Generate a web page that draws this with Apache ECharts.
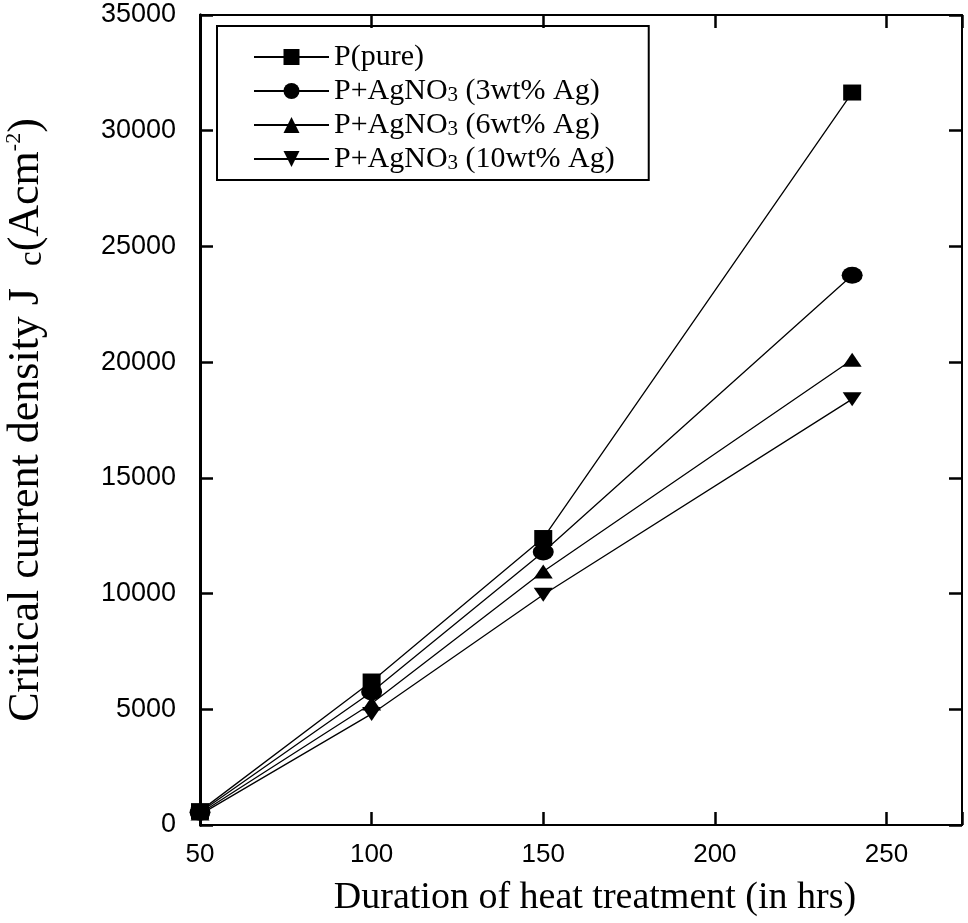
<!DOCTYPE html>
<html>
<head>
<meta charset="utf-8">
<title>Critical current density vs heat treatment</title>
<script src="https://cdn.jsdelivr.net/npm/echarts@6/dist/echarts.min.js"></script>
<style>
  html, body { margin: 0; padding: 0; background: #fff; }
  #chart { width: 968px; height: 923px; }
</style>
</head>
<body>
<div id="chart"></div>
<script>
// Heat-treatment durations (hours)
const hours = [50, 100, 150, 240];

// Critical current density Jc (A/cm^2) for each sample
const pure = [600, 6200, 12400, 31650];
const ag3 = [550, 5750, 11800, 23750];
const ag6 = [500, 5250, 10950, 20100];
const ag10 = [450, 4800, 9950, 18400];

const seriesNames = [
  'P(pure)',
  'P+AgNO3 (3wt% Ag)',
  'P+AgNO3 (6wt% Ag)',
  'P+AgNO3 (10wt% Ag)'
];

const xTicks = { min: 50, max: 272, interval: 50 };
const yTicks = { min: 0, max: 35000, interval: 5000 };

const sans = 'Liberation Sans, Arial, sans-serif';
const serif = 'Liberation Serif, Times New Roman, serif';

// plot box in pixels
const plot = { left: 200, right: 6, top: 15, bottom: 98 };

function pairs(values) {
  return hours.map((h, i) => [h, values[i]]);
}

const downTriangle = 'path://M0,0 L10,0 L5,8 Z';

function makeSeries(name, values, symbol, size) {
  return {
    name: name,
    type: 'line',
    xAxisIndex: 0,
    yAxisIndex: 0,
    data: pairs(values),
    symbol: symbol,
    symbolSize: size,
    showSymbol: true,
    lineStyle: { color: '#000', width: 1.3 },
    itemStyle: { color: '#000', borderWidth: 0 },
    emphasis: { disabled: true },
    animation: false
  };
}

// Unlabelled axes that draw the frame edges and ticks pointing into the plot
function frameAxis(gridIndex, position, range, lineWidth) {
  return {
    type: 'value',
    gridIndex: gridIndex,
    position: position,
    min: range.min,
    max: range.max,
    interval: range.interval,
    axisLine: { show: true, onZero: false, lineStyle: { color: '#000', width: lineWidth } },
    axisTick: { show: true, inside: true, length: 13, lineStyle: { color: '#000', width: 2.5 } },
    axisLabel: { show: false },
    splitLine: { show: false }
  };
}

const gridBox = {
  left: plot.left, right: plot.right, top: plot.top, bottom: plot.bottom,
  containLabel: false,
  outerBoundsMode: 'none'
};

const chart = echarts.init(document.getElementById('chart'));

chart.setOption({
  backgroundColor: '#fff',
  animation: false,
  // grid 0 holds the data and the labelled axes; grid 1 overlays the bottom/left tick frame
  grid: [Object.assign({}, gridBox), Object.assign({}, gridBox)],
  legend: {
    orient: 'vertical',
    left: 217,
    top: 26,
    padding: [16, 34, 6, 36],
    borderColor: '#000',
    borderWidth: 2,
    itemWidth: 75,
    itemHeight: 20,
    itemGap: 4,
    selectedMode: false,
    data: seriesNames,
    textStyle: {
      fontFamily: serif,
      fontSize: 30,
      color: '#000',
      lineHeight: 30,
      rich: {
        sub: { fontFamily: serif, fontSize: 21, color: '#000', verticalAlign: 'bottom', lineHeight: 30 }
      }
    },
    formatter: function (name) {
      return name.replace('NO3', 'NO{sub|3}');
    }
  },
  xAxis: [
    {
      type: 'value',
      gridIndex: 0,
      position: 'bottom',
      min: xTicks.min,
      max: xTicks.max,
      interval: xTicks.interval,
      name: 'Duration of heat treatment (in hrs)',
      nameLocation: 'middle',
      nameGap: 54,
      nameTextStyle: { fontFamily: serif, fontSize: 38, color: '#000', padding: [0, 0, 0, 28] },
      axisLine: { show: true, onZero: false, lineStyle: { color: '#000', width: 2 } },
      axisTick: { show: false },
      axisLabel: {
        fontFamily: sans, fontSize: 26, color: '#000', margin: 17,
        showMaxLabel: false,
        formatter: function (v) { return v % 50 === 0 ? String(v) : ''; }
      },
      splitLine: { show: false }
    },
    frameAxis(0, 'top', xTicks, 2),
    frameAxis(1, 'bottom', xTicks, 2)
  ],
  yAxis: [
    {
      type: 'value',
      gridIndex: 0,
      position: 'left',
      min: yTicks.min,
      max: yTicks.max,
      interval: yTicks.interval,
      name: '{b|Critical current density J  }{s|c}{b|(Acm}{p|-2}{b|)}',
      nameLocation: 'middle',
      nameGap: 151,
      nameRotate: 90,
      nameTextStyle: {
        color: '#000',
        rich: {
          b: { fontFamily: serif, fontSize: 44, color: '#000', lineHeight: 46, verticalAlign: 'middle' },
          s: { fontFamily: serif, fontSize: 33, color: '#000', lineHeight: 46, verticalAlign: 'bottom' },
          p: { fontFamily: serif, fontSize: 22, color: '#000', lineHeight: 46, verticalAlign: 'top' }
        }
      },
      axisLine: { show: true, onZero: false, lineStyle: { color: '#000', width: 3 } },
      axisTick: { show: false },
      axisLabel: {
        fontFamily: sans, fontSize: 27, color: '#000', margin: 24,
        formatter: function (v) { return String(v); }
      },
      splitLine: { show: false }
    },
    frameAxis(0, 'right', yTicks, 2),
    frameAxis(1, 'left', yTicks, 3)
  ],
  series: [
    makeSeries(seriesNames[0], pure, 'rect', [18, 16]),
    makeSeries(seriesNames[1], ag3, 'circle', [21, 17]),
    makeSeries(seriesNames[2], ag6, 'triangle', [19, 14]),
    makeSeries(seriesNames[3], ag10, downTriangle, [19, 14])
  ]
});
</script>
</body>
</html>
